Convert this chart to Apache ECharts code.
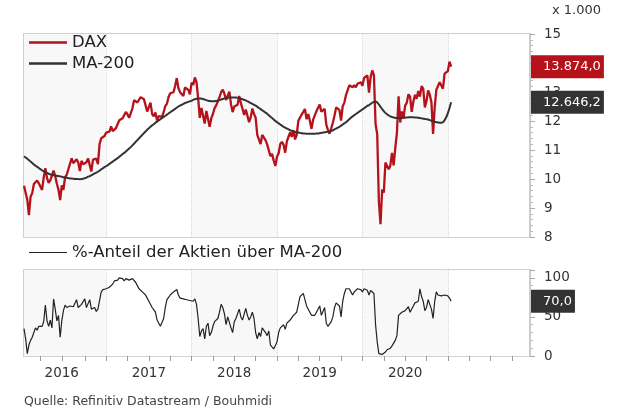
<!DOCTYPE html>
<html>
<head>
<meta charset="utf-8">
<script src="https://cdn.jsdelivr.net/npm/echarts@6/dist/echarts.min.js"></script>
<style>
html, body { margin: 0; padding: 0; background: #fff; }
#chart { width: 628px; height: 415px; }
</style>
</head>
<body>
<div id="chart"></div>
<script>
// Wochenwerte (Freitage) ab 22.01.2016, Achse reicht bis Dez. 2021
var firstWeek = '2016-01-22';
var weekCount = 309;
var yearLabels = ['2016', '2017', '2018', '2019', '2020'];
var daxTicks = [8, 9, 10, 11, 12, 13, 14, 15];
var shareTicks = [0, 50, 100];

// DAX in Tausend Punkten
var dax = [
    // 2016
    9.764, 9.798, 9.286, 8.750, 9.388, 9.513, 9.824, 9.831, 9.950, 9.851,
    9.794, 9.622, 10.051, 10.373, 10.039, 9.870, 9.952, 9.916, 10.286, 10.103,
    9.834, 9.631, 9.270, 9.776, 9.630, 10.067, 10.147, 10.337, 10.367, 10.713,
    10.544, 10.588, 10.684, 10.573, 10.276, 10.627, 10.511, 10.490, 10.580, 10.711,
    10.696, 10.259, 10.668, 10.664, 10.700, 10.513, 11.203, 11.404, 11.450, 11.481,
    // 2017
    11.599, 11.629, 11.630, 11.814, 11.651, 11.666, 11.757, 11.804, 12.027, 11.963,
    12.095, 12.064, 12.313, 12.225, 12.109, 12.049, 12.438, 12.717, 12.770, 12.638,
    12.602, 12.823, 12.816, 12.753, 12.733, 12.325, 12.389, 12.632, 12.240, 12.163,
    12.298, 12.015, 12.165, 12.168, 12.143, 12.304, 12.518, 12.592, 12.829, 12.956,
    12.992, 12.991, 13.217, 13.479, 13.127, 12.994, 13.060, 12.861, 13.154, 13.104,
    13.072, 12.918,
    // 2018
    13.320, 13.245, 13.500, 13.341, 12.785, 12.107, 12.452, 12.484, 11.914, 12.346,
    12.390, 11.800, 12.097, 12.241, 12.442, 12.540, 12.580, 12.820, 13.001, 13.077,
    12.938, 12.724, 12.767, 13.011, 12.580, 12.306, 12.496, 12.541, 12.561, 12.860,
    12.616, 12.424, 12.211, 12.394, 12.364, 11.960, 12.124, 12.431, 12.247, 12.111,
    11.524, 11.554, 11.201, 11.519, 11.529, 11.341, 11.193, 11.257, 10.788, 10.866,
    10.634, 10.450,
    // 2019
    10.767, 10.888, 11.205, 11.282, 11.181, 10.907, 11.300, 11.457, 11.602, 11.458,
    11.686, 11.364, 11.526, 12.010, 11.999, 12.222, 12.315, 12.413, 12.060, 12.239,
    12.012, 11.727, 12.045, 12.096, 12.340, 12.399, 12.569, 12.323, 12.260, 12.419,
    11.872, 11.694, 11.563, 11.612, 11.939, 12.191, 12.469, 12.468, 12.381, 12.013,
    12.512, 12.634, 12.895, 12.962, 13.229, 13.242, 13.164, 13.236, 13.167, 13.283,
    13.319, 13.337,
    // 2020
    13.219, 13.483, 13.526, 13.577, 12.982, 13.514, 13.744, 13.579, 11.890, 11.542,
    9.232, 8.442, 9.633, 9.526, 10.565, 10.626, 10.336, 10.467, 10.904, 10.465,
    11.074, 11.587, 12.848, 11.949, 12.331, 12.089, 12.528, 12.633, 12.920, 12.838,
    12.313, 12.674, 12.901, 12.765, 13.033, 12.843, 13.203, 13.116, 12.469, 12.689,
    13.051, 12.909, 12.646, 11.556, 12.480, 13.077, 13.137, 13.336, 13.299, 13.114,
    13.631, 13.587,
    // 2021
    13.719, 14.049, 13.874
];

var ma200 = [
    // 2016
    10.78, 10.74, 10.70, 10.65, 10.60, 10.55, 10.50, 10.46, 10.42, 10.38,
    10.34, 10.30, 10.27, 10.24, 10.21, 10.18, 10.16, 10.14, 10.13, 10.12,
    10.11, 10.10, 10.09, 10.08, 10.06, 10.05, 10.04, 10.03, 10.02, 10.02,
    10.01, 10.00, 10.00, 10.00, 9.99, 10.00, 10.01, 10.03, 10.05, 10.08,
    10.10, 10.13, 10.16, 10.19, 10.22, 10.25, 10.29, 10.33, 10.37, 10.41,
    // 2017
    10.44, 10.48, 10.52, 10.56, 10.60, 10.64, 10.68, 10.72, 10.77, 10.81,
    10.86, 10.90, 10.95, 11.00, 11.05, 11.10, 11.16, 11.22, 11.28, 11.34,
    11.40, 11.46, 11.52, 11.58, 11.64, 11.70, 11.75, 11.80, 11.85, 11.89,
    11.94, 11.98, 12.02, 12.06, 12.10, 12.14, 12.18, 12.22, 12.26, 12.30,
    12.34, 12.38, 12.42, 12.46, 12.50, 12.53, 12.56, 12.59, 12.62, 12.64,
    12.66, 12.68,
    // 2018
    12.70, 12.73, 12.75, 12.77, 12.78, 12.78, 12.77, 12.76, 12.74, 12.72,
    12.70, 12.69, 12.68, 12.68, 12.68, 12.69, 12.70, 12.72, 12.74, 12.76,
    12.78, 12.79, 12.80, 12.81, 12.81, 12.81, 12.81, 12.81, 12.80, 12.79,
    12.77, 12.75, 12.73, 12.71, 12.68, 12.65, 12.62, 12.59, 12.56, 12.53,
    12.49, 12.45, 12.41, 12.37, 12.33, 12.29, 12.25, 12.20, 12.15, 12.10,
    12.05, 12.00,
    // 2019
    11.96, 11.92, 11.88, 11.84, 11.80, 11.77, 11.74, 11.71, 11.68, 11.66,
    11.64, 11.62, 11.61, 11.60, 11.59, 11.58, 11.57, 11.57, 11.56, 11.56,
    11.56, 11.56, 11.56, 11.56, 11.57, 11.57, 11.58, 11.59, 11.60, 11.61,
    11.62, 11.63, 11.64, 11.66, 11.68, 11.71, 11.74, 11.77, 11.80, 11.84,
    11.88, 11.92, 11.96, 12.01, 12.06, 12.11, 12.16, 12.20, 12.24, 12.28,
    12.32, 12.36,
    // 2020
    12.40, 12.44, 12.48, 12.52, 12.55, 12.59, 12.63, 12.66, 12.67, 12.64,
    12.57, 12.49, 12.41, 12.34, 12.28, 12.23, 12.19, 12.16, 12.14, 12.12,
    12.11, 12.10, 12.10, 12.10, 12.11, 12.11, 12.12, 12.12, 12.13, 12.13,
    12.13, 12.13, 12.12, 12.12, 12.11, 12.10, 12.09, 12.08, 12.07, 12.06,
    12.05, 12.03, 12.01, 11.99, 11.97, 11.96, 11.95, 11.94, 11.94, 11.96,
    12.03, 12.13,
    // 2021
    12.27, 12.45, 12.6462
];

// %-Anteil der Aktien über MA-200
var share = [
    // 2016
    35, 22, 3, 14, 20, 24, 30, 36, 33, 38,
    40, 38, 44, 65, 45, 38, 46, 36, 73, 60,
    45, 52, 24, 45, 58, 65, 62, 64, 64, 66,
    63, 65, 72, 62, 60, 66, 64, 73, 62, 67,
    72, 60, 58, 62, 57, 60, 62, 82, 85, 84,
    // 2017
    86, 84, 88, 86, 92, 96, 98, 97, 100, 98,
    99, 96, 99, 100, 97, 95, 99, 100, 94, 90,
    86, 88, 82, 84, 78, 74, 70, 72, 62, 60,
    56, 46, 44, 38, 36, 48, 62, 72, 74, 78,
    80, 82, 84, 85, 78, 74, 76, 73, 75, 72,
    74, 71,
    // 2018
    72, 70, 73, 66, 48, 25, 32, 35, 22, 38,
    42, 26, 30, 38, 44, 46, 48, 56, 66, 62,
    54, 40, 50, 52, 36, 30, 44, 48, 50, 60,
    50, 46, 44, 61, 52, 46, 50, 56, 48, 30,
    22, 30, 25, 36, 38, 30, 26, 32, 14, 12,
    9, 8,
    // 2019
    18, 30, 36, 38, 40, 34, 42, 44, 46, 44,
    52, 50, 56, 66, 76, 78, 80, 72, 64, 62,
    56, 52, 54, 52, 56, 54, 64, 52, 50, 62,
    42, 38, 40, 44, 50, 62, 68, 70, 64, 50,
    70, 80, 86, 88, 86, 82, 78, 82, 84, 86,
    87, 85,
    // 2020
    82, 86, 87, 84, 78, 84, 86, 80, 40, 18,
    3, 1, 2, 2, 5, 8, 6, 10, 13, 12,
    20, 26, 52, 50, 56, 54, 58, 60, 63, 56,
    54, 64, 68, 66, 70, 86, 76, 70, 58, 62,
    72, 66, 60, 48, 70, 82, 78, 78, 77, 77,
    78, 77,
    // 2021
    77, 74, 70
];

var weeks = [];
var d0 = new Date(firstWeek + 'T00:00:00Z');
for (var i = 0; i < weekCount; i++) {
    weeks.push(new Date(d0.getTime() + i * 7 * 864e5).toISOString().slice(0, 10));
}

var font = 'DejaVu Sans';
var red = '#b5121b';
var dark = '#333333';

function month(v) { return v.slice(5, 7); }
function firstWeekOf(v) { return +v.slice(8, 10) <= 7; }
function isYearStart(i, v) { return month(v) === '01' && firstWeekOf(v); }
function isQuarterStart(i, v) {
    var m = month(v);
    return (m === '01' || m === '04' || m === '07' || m === '10') && firstWeekOf(v);
}
function isMidYear(i, v) {
    return month(v) === '07' && firstWeekOf(v) && yearLabels.indexOf(v.slice(0, 4)) >= 0;
}
function isBand(i, v) { return i === 0 || i === weekCount - 1 || isYearStart(i, v); }

// Zahlen im deutschen Format, z.B. 13.874,0
function deNum(v) {
    var s = v.toFixed(1).split('.');
    return s[0].replace(/\B(?=(\d{3})+(?!\d))/g, '.') + ',' + s[1];
}

var gridRight = 530;

function xAxisFor(gridIndex, withLabels) {
    return {
        type: 'category',
        gridIndex: gridIndex,
        data: weeks,
        boundaryGap: false,
        axisLine: { show: false },
        axisTick: {
            show: withLabels,
            interval: isQuarterStart,
            length: 5,
            lineStyle: { color: '#999999' }
        },
        axisLabel: {
            show: withLabels,
            interval: isMidYear,
            formatter: function (v) { return v.slice(0, 4); },
            fontSize: 13.5,
            color: '#333',
            fontFamily: font,
            margin: 10
        },
        splitLine: {
            show: true,
            interval: isYearStart,
            lineStyle: { color: '#d6d6d6', type: 'dotted', width: 1 }
        },
        splitArea: {
            show: true,
            interval: isBand,
            areaStyle: { color: ['#f8f8f8', '#ffffff'] }
        }
    };
}

function yAxisFor(gridIndex, min, max, interval, ticks) {
    return {
        type: 'value',
        gridIndex: gridIndex,
        position: 'right',
        min: min,
        max: max,
        interval: interval,
        axisLine: { show: true, lineStyle: { color: '#cccccc', width: 2 } },
        axisTick: { show: true, length: 5, lineStyle: { color: '#aaaaaa' } },
        minorTick: { show: true, splitNumber: 5, length: 3, lineStyle: { color: '#bbbbbb' } },
        axisLabel: {
            fontSize: 13.5,
            color: '#333',
            fontFamily: font,
            margin: 14,
            showMaxLabel: ticks.indexOf(max) >= 0,
            formatter: function (v) { return ticks.indexOf(v) >= 0 ? String(v) : ''; }
        },
        splitLine: { show: true, lineStyle: { color: '#d6d6d6', type: 'dotted', width: 1 } }
    };
}

var chart = echarts.init(document.getElementById('chart'), null, { renderer: 'canvas' });

var option = {
    animation: false,
    textStyle: { fontFamily: font },
    title: [{
        text: 'x 1.000',
        right: 27,
        top: 4,
        padding: 0,
        textStyle: { fontSize: 13, fontWeight: 'normal', color: '#333', fontFamily: font }
    }, {
        text: 'Quelle: Refinitiv Datastream / Bouhmidi',
        left: 24,
        top: 395,
        padding: 0,
        textStyle: { fontSize: 12.5, fontWeight: 'normal', color: '#444', fontFamily: font }
    }],
    legend: [{
        data: ['DAX', 'MA-200'],
        orient: 'vertical',
        left: 29,
        top: 34,
        padding: 0,
        itemGap: 4,
        itemWidth: 38,
        itemHeight: 2.5,
        icon: 'rect',
        selectedMode: false,
        textStyle: { fontSize: 16.5, color: '#222', fontFamily: font }
    }, {
        data: ['%-Anteil der Aktien über MA-200'],
        left: 29,
        top: 244,
        padding: 0,
        itemWidth: 38,
        itemHeight: 1.2,
        icon: 'rect',
        selectedMode: false,
        textStyle: { fontSize: 16.5, color: '#222', fontFamily: font }
    }],
    grid: [{
        left: 24, top: 34, width: gridRight - 24, height: 203,
        show: true, borderColor: '#d0d0d0', borderWidth: 2, backgroundColor: 'transparent'
    }, {
        left: 24, top: 270, width: gridRight - 24, height: 86,
        show: true, borderColor: '#d0d0d0', borderWidth: 2, backgroundColor: 'transparent'
    }],
    xAxis: [xAxisFor(0, false), xAxisFor(1, true)],
    yAxis: [
        yAxisFor(0, daxTicks[0], daxTicks[daxTicks.length - 1], 1, daxTicks),
        yAxisFor(1, 0, 110, 50, shareTicks)
    ],
    series: [{
        name: 'DAX',
        type: 'line',
        xAxisIndex: 0,
        yAxisIndex: 0,
        data: dax,
        symbol: 'none',
        color: red,
        itemStyle: { color: red },
        lineStyle: { color: red, width: 2.3 },
        z: 3
    }, {
        name: 'MA-200',
        type: 'line',
        xAxisIndex: 0,
        yAxisIndex: 0,
        data: ma200,
        symbol: 'none',
        smooth: 0.3,
        color: dark,
        itemStyle: { color: dark },
        lineStyle: { color: dark, width: 2 },
        z: 4
    }, {
        name: '%-Anteil der Aktien über MA-200',
        type: 'line',
        xAxisIndex: 1,
        yAxisIndex: 1,
        data: share,
        symbol: 'none',
        color: '#222',
        itemStyle: { color: '#222' },
        lineStyle: { color: '#222', width: 1.2 },
        z: 3
    }]
};

chart.setOption(option);

// Wertefelder am rechten Rand (letzter Wert)
function badge(value, text, color, yIndex) {
    var y = chart.convertToPixel({ yAxisIndex: yIndex }, value);
    return {
        type: 'text',
        x: gridRight + 1,
        y: y,
        z: 100,
        style: {
            text: text,
            fill: '#fff',
            font: '13px "' + font + '"',
            backgroundColor: color,
            padding: [5, 3, 5, 12],
            verticalAlign: 'middle'
        }
    };
}

var lastDax = dax[dax.length - 1];
var lastMa = ma200[ma200.length - 1];
var lastShare = share[share.length - 1];

chart.setOption({
    graphic: [
        badge(lastDax, deNum(lastDax * 1000), red, 0),
        badge(lastMa, deNum(lastMa * 1000), dark, 0),
        badge(lastShare, deNum(lastShare), dark, 1)
    ]
});
</script>
</body>
</html>
